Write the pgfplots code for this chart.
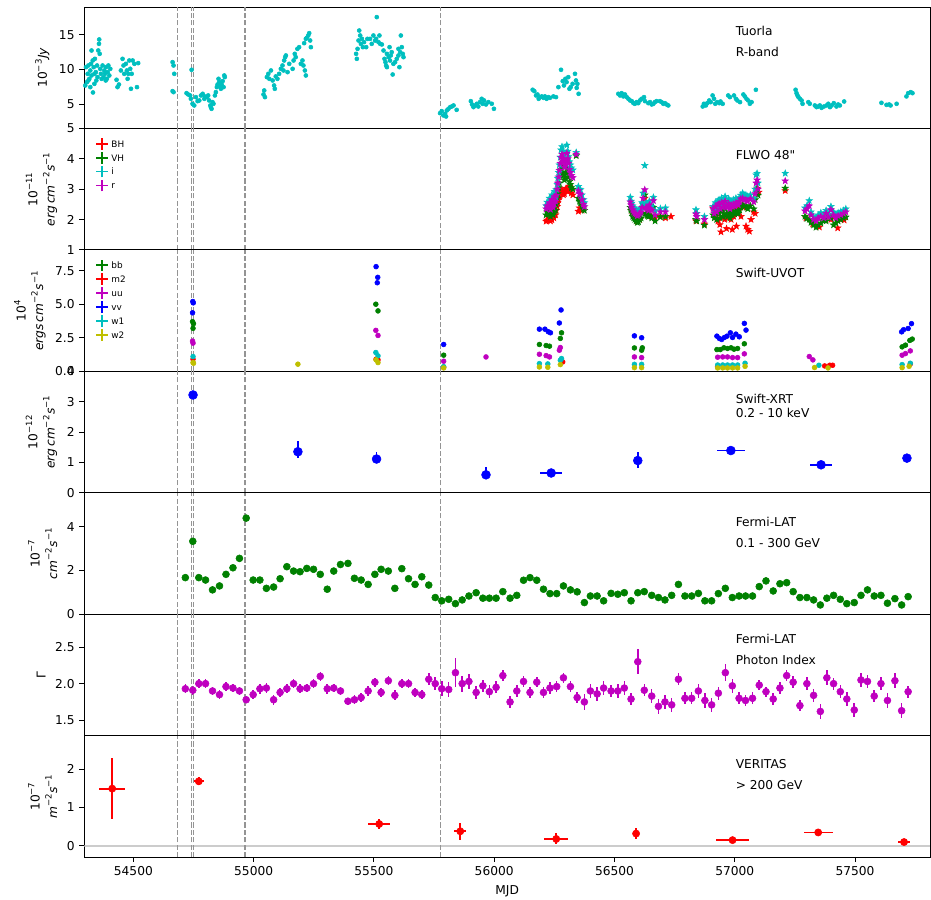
\documentclass[border=0pt]{standalone}
\usepackage{fontspec}
\setmainfont{DejaVu Sans}
\newfontfamily\plainfont{DejaVu Sans}
\usepackage{pgfplots}
\pgfplotsset{compat=1.18}

\definecolor{mc}{rgb}{0,0.75,0.75}
\definecolor{mg}{rgb}{0,0.5,0}
\definecolor{mr}{rgb}{1,0,0}
\definecolor{mm}{rgb}{0.75,0,0.75}
\definecolor{mb}{rgb}{0,0,1}
\definecolor{my}{rgb}{0.75,0.75,0}
\definecolor{xline}{rgb}{0.12,0.31,0.47}
\definecolor{vl}{rgb}{0.58,0.58,0.58}

\pgfdeclareplotmark{fstar}{%
 \pgfpathmoveto{\pgfpointpolar{90}{\pgfplotmarksize}}%
 \pgfpathlineto{\pgfpointpolar{126}{0.42\pgfplotmarksize}}%
 \pgfpathlineto{\pgfpointpolar{162}{\pgfplotmarksize}}%
 \pgfpathlineto{\pgfpointpolar{198}{0.42\pgfplotmarksize}}%
 \pgfpathlineto{\pgfpointpolar{234}{\pgfplotmarksize}}%
 \pgfpathlineto{\pgfpointpolar{270}{0.42\pgfplotmarksize}}%
 \pgfpathlineto{\pgfpointpolar{306}{\pgfplotmarksize}}%
 \pgfpathlineto{\pgfpointpolar{342}{0.42\pgfplotmarksize}}%
 \pgfpathlineto{\pgfpointpolar{18}{\pgfplotmarksize}}%
 \pgfpathlineto{\pgfpointpolar{54}{0.42\pgfplotmarksize}}%
 \pgfpathclose
 \pgfusepathqfillstroke
}

\newcommand{\sps}[1]{\textsuperscript{#1}}
\newcommand{\vlines}{\pgfplotsinvokeforeach{54684,54743,54750,54960,54967,55775}{%
  \draw[vl,dash pattern=on 3.7pt off 1.6pt,line width=0.65pt] ({axis cs:##1,0}|-{rel axis cs:0,0}) -- ({axis cs:##1,0}|-{rel axis cs:0,1});}}

\tikzset{lab/.style={anchor=base west, font=\fontsize{8.8}{10}\selectfont, inner sep=0pt}}
\pgfplotsset{
 panel/.style={
   scale only axis, width=608.9pt, height=87.43pt,
   xmin=54296, xmax=57812,
   xtick=\empty,
   ytick pos=left, xtick pos=bottom, tick align=outside,
   major tick length=3.5pt,
   tick style={black, line width=0.6pt},
   axis line style={line width=0.6pt},
   ticklabel style={font=\fontsize{8.8}{10}\selectfont},
   /pgf/number format/assume math mode=true,
   ylabel style={align=center, font=\fontsize{8.8}{12.5}\selectfont},
   anchor=south west,
 },
 crossleg/.style={legend image code/.code={\draw[##1, line width=1.2pt] (0.03cm,0pt) -- (0.32cm,0pt) (0.175cm,-0.145cm) -- (0.175cm,0.145cm);}},
}

\begin{document}
\begin{tikzpicture}
\useasboundingbox (-60.7pt,-30.24pt) rectangle (609.6pt,617.05pt);

% ---------------- Panel 1: Tuorla
\begin{axis}[panel, at={(0pt,524.58pt)}, ymin=1.5, ymax=19, ytick={5,10,15},
  ylabel={10\sps{−3}\textit{Jy}}]
\addplot[only marks, mark=*, mark size=1.45pt, color=mc] table {
x y
54300 7.69
54303 10.33
54307 8.17
54310 9.37
54313 10.57
54313 8.41
54317 8.65
54321 9.85
54321 7.45
54324 10.81
54326 9.13
54326 12.73
54331 11.29
54332 6.68
54335 10.33
54338 7.93
54338 9.37
54340 11.53
54344 9.61
54346 8.41
54349 10.57
54351 8.89
54354 12.73
54357 13.69
54358 14.32
54360 12.25
54362 10.09
54365 9.37
54368 8.65
54372 10.57
54376 8.89
54379 9.85
54382 9.37
54385 8.41
54386 10.33
54390 8.65
54393 9.61
54396 10.57
54400 9.13
54404 10.09
54430 8.51
54434 7.45
54440 7.83
54448 9.85
54455 11.53
54459 10.57
54462 9.37
54469 10.81
54473 9.85
54476 8.65
54479 9.37
54483 11.29
54487 10.09
54490 7.21
54493 9.37
54497 11.29
54504 10.81
54515 7.45
54520 10.91
54663 11.05
54667 10.57
54670 9.37
54663 6.87
54667 6.73
54721 6.58
54728 6.39
54736 6.25
54739 5.77
54742 9.95
54746 5.05
54753 4.81
54760 6.01
54767 5.43
54774 5.53
54781 6.25
54788 6.49
54795 5.77
54797 6.11
54806 6.01
54811 6.25
54815 5.53
54820 4.81
54822 4.57
54825 4.33
54829 5.29
54833 5.05
54839 6.25
54843 6.73
54847 7.45
54850 7.83
54854 8.65
54857 8.17
54861 7.55
54864 7.21
54867 7.83
54871 8.31
54875 7.45
54878 9.13
54880 8.89
55041 6.39
55044 6.97
55047 6.01
55055 8.89
55061 9.37
55065 8.65
55072 9.85
55079 8.41
55085 7.69
55088 7.21
55092 8.99
55099 8.65
55106 9.37
55113 10.09
55120 10.57
55124 9.85
55127 11.29
55131 11.77
55134 12.01
55141 9.61
55148 10.81
55162 10.09
55166 11.29
55171 12.25
55175 11.77
55182 12.97
55189 13.21
55196 10.81
55203 11.29
55207 10.57
55213 9.85
55217 9.13
55210 13.79
55217 14.41
55221 14.56
55227 14.89
55231 15.23
55235 14.17
55238 13.21
55426 12.25
55429 11.53
55432 12.97
55436 14.17
55439 15.61
55443 14.89
55446 13.69
55450 14.41
55454 13.21
55459 13.93
55468 13.21
55473 14.41
55484 14.41
55491 13.69
55498 14.89
55505 14.17
55509 14.41
55512 17.54
55519 13.93
55523 14.89
55526 13.69
55533 13.60
55540 12.73
55544 11.53
55548 11.05
55551 10.57
55554 12.25
55554 10.33
55561 11.77
55565 13.21
55567 11.29
55570 12.01
55574 12.49
55578 9.27
55581 10.81
55588 11.05
55595 11.53
55602 12.01
55602 12.97
55606 10.33
55609 12.49
55612 14.89
55616 13.21
55620 12.25
55623 11.77
55775 3.70
55782 3.99
55789 3.37
55796 3.61
55800 3.22
55803 4.09
55810 4.33
55817 4.57
55824 4.66
55831 4.81
55844 4.18
55903 5.43
55908 4.95
55914 4.57
55921 4.81
55928 5.05
55934 4.66
55941 5.29
55948 5.77
55952 5.05
55958 5.53
55966 4.95
55976 5.29
55990 5.05
55999 4.33
56160 7.07
56167 6.87
56174 6.25
56180 6.39
56185 5.77
56191 6.01
56198 6.11
56205 5.91
56211 6.11
56218 5.77
56225 6.01
56232 5.91
56246 6.11
56257 6.01
56267 7.45
56278 9.95
56285 8.31
56290 7.69
56296 8.65
56301 8.17
56308 8.89
56313 7.21
56318 7.45
56326 7.93
56336 9.37
56340 8.41
56343 7.35
56346 7.93
56351 6.49
56516 6.49
56523 6.25
56530 6.58
56537 6.11
56544 6.39
56551 6.01
56558 5.77
56565 5.53
56572 5.43
56579 5.14
56585 5.05
56592 5.29
56599 5.14
56606 5.53
56613 5.77
56623 6.01
56627 5.43
56641 5.14
56648 5.29
56655 4.95
56662 5.05
56668 5.29
56675 5.43
56689 5.43
56696 5.29
56703 5.05
56710 5.14
56717 4.95
56724 4.81
56867 4.66
56872 5.05
56880 4.81
56886 5.14
56894 5.53
56900 5.29
56908 6.25
56914 5.77
56919 5.05
56927 5.29
56936 5.14
56941 5.38
56950 5.05
56973 6.25
56980 6.01
56997 6.25
57005 5.77
57011 5.53
57022 5.29
57036 6.39
57042 6.11
57049 5.77
57056 5.53
57063 5.05
57070 5.29
57088 7.07
57253 7.07
57257 6.58
57261 6.25
57265 6.01
57271 5.77
57278 5.53
57282 5.05
57306 5.29
57312 5.05
57333 4.81
57340 4.57
57347 4.66
57354 4.81
57361 4.47
57371 4.66
57382 4.81
57389 5.05
57396 4.57
57403 4.81
57412 5.14
57423 4.66
57430 4.95
57437 4.81
57455 5.38
57610 5.19
57631 4.90
57642 4.95
57648 4.81
57673 5.05
57714 6.11
57721 6.58
57732 6.73
57739 6.58
};
\node[lab] at (rel axis cs:0.77,0.764) {Tuorla};
\node[lab] at (rel axis cs:0.77,0.593) {R-band};
\vlines
\end{axis}

% ---------------- Panel 2: FLWO
\begin{axis}[panel, at={(0pt,437.15pt)}, ymin=1, ymax=5, ytick={1,2,3,4,5},
  ylabel={10\sps{−11}\\\textit{erg\,cm}\sps{−2}\textit{s}\sps{−1}},
  legend style={draw=none, fill=none, at={(0.008,0.955)}, anchor=north west,
    font=\fontsize{6.4}{7}\selectfont, row sep=0pt,
    nodes={inner ysep=2.6pt, text height=4.8pt, text depth=0pt}},
  legend cell align=left]
\addplot[only marks, mark=fstar, mark size=2.4pt, color=mr, crossleg] table {
x y
56216 1.94
56220 1.98
56225 2.10
56230 2.05
56234 1.95
56238 2.02
56240 1.99
56245 2.12
56248 2.05
56251 2.21
56255 2.15
56258 2.30
56262 2.43
56264 2.55
56268 2.65
56271 2.75
56275 2.87
56278 2.95
56282 2.98
56285 2.90
56288 2.81
56292 2.85
56295 2.95
56299 3.03
56302 2.98
56306 2.92
56309 3.05
56313 3.09
56317 2.95
56321 2.87
56327 2.81
56350 2.27
56355 2.38
56365 2.30
56570 2.30
56580 2.15
56595 1.95
56605 2.00
56619 2.40
56626 2.70
56640 2.15
56655 2.10
56669 2.05
56691 2.10
56712 2.05
56735 2.10
56839 1.95
56874 1.85
56910 2.38
56915 2.30
56920 2.15
56925 2.20
56930 1.95
56938 1.83
56943 1.59
56950 2.10
56958 2.00
56966 1.70
56972 2.05
56978 2.20
56985 2.00
56990 1.67
56996 2.10
57000 2.30
57007 1.78
57012 2.20
57018 2.40
57026 2.10
57030 2.45
57037 2.40
57047 1.78
57054 1.67
57061 1.61
57068 2.00
57079 2.25
57085 2.20
57093 3.03
57100 2.90
57210 2.95
57296 2.05
57324 1.85
57352 1.75
57372 1.98
57400 2.00
57428 1.72
57441 2.00
57455 1.98
};
\addlegendentry{BH}
\addplot[only marks, mark=fstar, mark size=2.4pt, color=mg, crossleg] table {
x y
56216 2.15
56220 2.25
56225 2.20
56230 2.30
56234 2.10
56238 2.25
56240 2.35
56245 2.15
56248 2.25
56251 2.45
56255 2.30
56258 2.50
56262 2.70
56264 2.85
56268 3.05
56271 3.20
56275 3.45
56278 3.65
56282 3.75
56285 3.55
56288 3.45
56292 3.30
56295 3.40
56299 3.55
56302 3.70
56306 3.55
56309 3.40
56313 3.25
56317 3.15
56321 3.05
56327 3.00
56341 4.10
56350 2.70
56355 2.60
56359 2.55
56365 2.45
56371 2.35
56375 2.30
56566 2.40
56569 2.30
56572 2.22
56576 2.10
56580 2.05
56585 2.00
56590 1.95
56595 1.90
56600 1.92
56605 2.00
56611 2.05
56615 2.20
56619 2.50
56626 2.81
56631 2.20
56635 2.15
56638 2.12
56642 2.10
56645 2.25
56650 2.12
56655 2.05
56662 2.40
56669 1.95
56691 2.08
56712 2.10
56839 2.00
56842 1.95
56874 1.81
56910 2.15
56915 2.05
56920 2.20
56925 2.00
56930 2.25
56935 2.20
56940 2.05
56945 2.30
56950 2.10
56955 2.20
56960 2.35
56965 2.15
56970 2.10
56975 2.25
56980 2.05
56985 2.20
56990 2.15
56995 2.25
57000 2.18
57005 2.30
57010 2.22
57015 2.20
57020 2.32
57025 2.40
57033 2.50
57043 2.45
57050 2.40
57054 2.35
57065 2.45
57079 2.35
57085 2.65
57089 2.90
57093 3.00
57097 2.80
57210 3.03
57292 2.10
57300 2.03
57310 2.00
57317 1.90
57328 1.82
57338 1.74
57347 1.82
57358 1.88
57370 1.98
57380 1.95
57390 2.12
57400 2.05
57411 1.82
57420 1.88
57430 1.95
57441 2.00
57452 2.05
57462 2.08
};
\addlegendentry{VH}
\addplot[only marks, mark=fstar, mark size=2.4pt, color=mc, crossleg] table {
x y
56216 2.45
56220 2.57
56225 2.50
56230 2.70
56234 2.43
56238 2.62
56240 2.81
56245 2.51
56248 2.66
56251 2.92
56255 2.75
56258 2.98
56262 3.15
56264 3.36
56268 3.55
56271 3.80
56275 4.05
56278 4.29
56282 4.40
56285 4.25
56288 4.13
56292 3.95
56295 4.02
56299 4.20
56302 4.45
56306 4.25
56309 4.07
56313 3.90
56317 3.80
56321 3.70
56327 3.63
56341 4.21
56350 3.09
56355 3.00
56359 2.98
56365 2.81
56371 2.65
56375 2.55
56566 2.73
56569 2.60
56572 2.54
56576 2.45
56580 2.38
56585 2.35
56590 2.32
56595 2.28
56600 2.27
56605 2.33
56611 2.38
56615 2.55
56619 2.87
56626 3.78
56631 2.54
56635 2.50
56638 2.49
56642 2.45
56645 2.60
56650 2.48
56655 2.43
56662 2.73
56669 2.29
56691 2.36
56712 2.38
56839 2.32
56842 2.20
56874 2.10
56910 2.43
56915 2.30
56920 2.55
56925 2.35
56930 2.60
56935 2.65
56940 2.45
56945 2.70
56950 2.50
56955 2.60
56960 2.76
56965 2.55
56970 2.50
56975 2.68
56980 2.45
56985 2.60
56990 2.55
56995 2.65
57000 2.55
57005 2.70
57010 2.62
57015 2.60
57020 2.72
57025 2.80
57033 2.87
57043 2.81
57050 2.78
57054 2.76
57065 2.81
57079 2.70
57085 3.00
57089 3.47
57093 3.52
57097 3.20
57210 3.52
57292 2.38
57300 2.45
57310 2.62
57317 2.25
57328 2.10
57338 2.05
57347 2.15
57358 2.22
57370 2.15
57380 2.30
57390 2.18
57400 2.43
57411 2.25
57420 2.15
57430 2.22
57441 2.26
57452 2.30
57462 2.35
};
\addlegendentry{i}
\addplot[only marks, mark=fstar, mark size=2.4pt, color=mm, crossleg] table {
x y
56216 2.35
56220 2.45
56225 2.40
56230 2.55
56234 2.33
56238 2.50
56240 2.65
56245 2.40
56248 2.52
56251 2.75
56255 2.60
56258 2.80
56262 3.00
56264 3.20
56268 3.40
56271 3.62
56275 3.85
56278 4.05
56282 4.15
56285 4.00
56288 3.90
56292 3.72
56295 3.80
56299 3.95
56302 4.18
56306 4.00
56309 3.85
56313 3.65
56317 3.55
56321 3.45
56327 3.38
56341 4.15
56350 2.95
56355 2.85
56359 2.82
56365 2.65
56371 2.50
56375 2.42
56566 2.58
56569 2.48
56572 2.40
56576 2.32
56580 2.25
56585 2.20
56590 2.18
56595 2.12
56600 2.15
56605 2.20
56611 2.25
56615 2.40
56619 2.70
56626 2.98
56631 2.40
56635 2.36
56638 2.35
56642 2.30
56645 2.48
56650 2.35
56655 2.30
56662 2.62
56669 2.15
56691 2.25
56712 2.25
56839 2.18
56842 2.10
56874 2.00
56910 2.35
56915 2.20
56920 2.42
56925 2.25
56930 2.48
56935 2.52
56940 2.35
56945 2.55
56950 2.40
56955 2.48
56960 2.60
56965 2.42
56970 2.40
56975 2.52
56980 2.35
56985 2.48
56990 2.42
56995 2.50
57000 2.44
57005 2.55
57010 2.50
57015 2.48
57020 2.60
57025 2.68
57033 2.70
57043 2.65
57050 2.62
57054 2.60
57065 2.68
57079 2.58
57085 2.85
57089 3.20
57093 3.30
57097 3.00
57210 3.27
57292 2.28
57300 2.35
57310 2.45
57317 2.15
57328 2.00
57338 1.95
57347 2.05
57358 2.10
57370 2.05
57380 2.20
57390 2.08
57400 2.32
57411 2.15
57420 2.05
57430 2.12
57441 2.15
57452 2.20
57462 2.25
};
\addlegendentry{r}
\node[lab] at (rel axis cs:0.77,0.743) {\plainfont FLWO 48"};
\vlines
\end{axis}

% ---------------- Panel 3: Swift-UVOT
\begin{axis}[panel, at={(0pt,349.72pt)}, ymin=0, ymax=9.05, ytick={0,2.5,5,7.5},
  yticklabel style={/pgf/number format/.cd, fixed, fixed zerofill, precision=1},
  ylabel={10\sps{4}\\\textit{ergs\,cm}\sps{−2}\textit{s}\sps{−1}},
  legend style={draw=none, fill=none, at={(0.008,0.955)}, anchor=north west,
    font=\fontsize{6.4}{7}\selectfont, row sep=0pt,
    nodes={inner ysep=2.6pt, text height=4.8pt, text depth=0pt}},
  legend cell align=left]
\addplot[only marks, mark=*, mark size=1.75pt, color=mg, crossleg] table {
x y
54746 3.70
54748 3.20
54750 3.55
55508 5.00
55517 4.50
55790 1.20
56188 2.00
56216 1.92
56230 1.87
56275 2.45
56280 2.87
56583 1.74
56613 1.57
56616 1.75
56926 1.62
56940 1.62
56955 1.75
56970 1.70
56985 1.75
56997 1.65
57012 1.70
57040 2.05
57696 1.82
57710 1.95
57728 2.30
57738 2.40
};
\addlegendentry{bb}
\addplot[only marks, mark=*, mark size=1.75pt, color=mr, crossleg] table {
x y
54748 0.90
55509 0.90
55517 0.85
55790 0.30
56285 0.70
56929 0.35
57374 0.40
57395 0.45
57407 0.45
57730 0.55
};
\addlegendentry{m2}
\addplot[only marks, mark=*, mark size=1.75pt, color=mm, crossleg] table {
x y
54746 2.25
54748 2.10
55508 3.05
55517 2.67
55790 0.75
55966 1.07
56188 1.27
56216 1.17
56230 1.07
56271 1.57
56275 1.77
56583 1.07
56613 1.02
56929 1.05
56950 1.07
56970 1.07
56991 1.02
57012 1.02
57040 1.30
57310 1.10
57325 0.85
57696 1.20
57710 1.32
57730 1.52
};
\addlegendentry{uu}
\addplot[only marks, mark=*, mark size=1.75pt, color=mb, crossleg] table {
x y
54747 5.20
54749 5.10
54746 4.36
55509 7.80
55516 7.00
55514 6.60
55790 2.00
56188 3.14
56211 3.14
56225 2.95
56234 2.87
56271 3.60
56278 4.57
56583 2.64
56613 2.50
56926 2.62
56936 2.45
56946 2.37
56957 2.52
56968 2.62
56982 2.87
56991 2.52
57005 2.77
57019 2.57
57040 3.57
57047 3.07
57694 2.94
57702 3.10
57721 3.19
57735 3.55
};
\addlegendentry{vv}
\addplot[only marks, mark=*, mark size=1.75pt, color=mc, crossleg] table {
x y
54748 1.10
55508 1.40
55517 1.15
55790 0.35
56188 0.57
56223 0.55
56275 0.82
56280 0.95
56583 0.52
56613 0.52
56929 0.47
56950 0.47
56970 0.47
56991 0.47
57012 0.47
57043 0.60
57350 0.45
57696 0.50
57730 0.60
};
\addlegendentry{w1}
\addplot[only marks, mark=*, mark size=1.75pt, color=my, crossleg] table {
x y
54748 0.65
54750 0.60
55184 0.53
55509 0.85
55517 0.65
55790 0.25
56188 0.32
56223 0.30
56275 0.50
56583 0.27
56613 0.27
56929 0.25
56950 0.25
56970 0.25
56991 0.25
57012 0.25
57043 0.37
57332 0.28
57388 0.25
57696 0.27
57725 0.37
};
\addlegendentry{w2}
\node[lab] at (rel axis cs:0.77,0.771) {Swift-UVOT};
\vlines
\end{axis}

% ---------------- Panel 4: Swift-XRT
\begin{axis}[panel, at={(0pt,262.29pt)}, ymin=0, ymax=4, ytick={0,1,2,3,4},
  ylabel={10\sps{−12}\\\textit{erg\,cm}\sps{−2}\textit{s}\sps{−1}}]
\addplot[xline, line width=1.6pt] coordinates {(54748,0) (57716,0)};
\addplot[only marks, mark=*, mark size=3.2pt, color=mb,
  error bars/.cd, x dir=both, x explicit, y dir=both, y explicit,
  error bar style={line width=1.2pt}, error mark=none]
  table[x=x, y=y, x error=ex, y error plus=ep, y error minus=em] {
x y ex ep em
54748 3.22 5 0.06 0.06
55184 1.35 5 0.37 0.21
55511 1.11 5 0.22 0.10
55966 0.59 5 0.27 0.15
56237 0.65 47 0.05 0.05
56597 1.06 5 0.29 0.23
56984 1.39 58 0.05 0.05
57359 0.92 46 0.05 0.05
57716 1.14 5 0.06 0.06
};
\node[lab] at (rel axis cs:0.77,0.735) {Swift-XRT};
\node[lab] at (rel axis cs:0.77,0.617) {0.2 - 10 keV};
\vlines
\end{axis}

% ---------------- Panel 5: Fermi-LAT flux
\begin{axis}[panel, at={(0pt,174.86pt)}, ymin=0, ymax=5.55, ytick={0,2,4},
  ylabel={10\sps{−7}\\\textit{cm}\sps{−2}\textit{s}\sps{−1}}]
\addplot[only marks, mark=*, mark size=2.5pt, color=mg,
  error bars/.cd, y dir=both, y fixed=0.12, error bar style={line width=1.1pt}, error mark=none]
  table {
x y
54716 1.67
54747 3.33
54772 1.67
54800 1.56
54829 1.11
54858 1.29
54885 1.82
54914 2.12
54941 2.55
54969 4.39
54998 1.56
55026 1.56
55053 1.18
55083 1.24
55110 1.62
55138 2.17
55166 1.97
55193 1.94
55221 2.09
55249 2.05
55277 1.82
55306 1.14
55333 1.97
55361 2.27
55392 2.32
55419 1.64
55447 1.56
55476 1.36
55504 1.82
55530 2.05
55560 1.97
55587 1.18
55616 2.08
55644 1.62
55671 1.36
55699 1.71
55728 1.33
55755 0.76
55782 0.61
55811 0.68
55839 0.48
55867 0.65
55895 0.83
55925 0.98
55953 0.73
55980 0.73
56008 0.73
56036 1.03
56066 0.73
56094 0.86
56122 1.55
56149 1.67
56177 1.55
56205 1.14
56232 0.94
56260 0.94
56288 1.29
56317 1.11
56345 1.02
56375 0.53
56400 0.83
56428 0.83
56455 0.61
56486 0.95
56514 0.91
56541 0.98
56569 0.61
56597 0.98
56624 1.03
56655 0.86
56683 0.76
56710 0.65
56738 0.86
56766 1.36
56793 0.83
56821 0.83
56849 0.95
56876 0.61
56904 0.61
56932 0.94
56961 1.18
56990 0.76
57018 0.83
57045 0.83
57074 0.83
57102 1.26
57130 1.52
57160 1.06
57188 1.39
57216 1.44
57243 1.03
57271 0.76
57300 0.76
57328 0.65
57356 0.42
57383 0.73
57411 0.86
57439 0.68
57466 0.48
57497 0.53
57525 0.86
57552 1.11
57580 0.83
57608 0.86
57635 0.50
57666 0.71
57694 0.42
57721 0.80
};
\node[lab] at (rel axis cs:0.77,0.724) {Fermi-LAT};
\node[lab] at (rel axis cs:0.77,0.547) {0.1 - 300 GeV};
\vlines
\end{axis}

% ---------------- Panel 6: Fermi-LAT index
\begin{axis}[panel, at={(0pt,87.43pt)}, ymin=1.29, ymax=2.95, ytick={1.5,2.0,2.5},
  yticklabel style={/pgf/number format/.cd, fixed, fixed zerofill, precision=1},
  ylabel={Γ}]
\addplot[only marks, mark=*, mark size=2.5pt, color=mm,
  error bars/.cd, y dir=both, y explicit, error bar style={line width=1.1pt}, error mark=none]
  table[x=x, y=y, y error=e] {
x y e
54716 1.93 0.06
54747 1.91 0.06
54772 2.00 0.06
54800 2.00 0.06
54829 1.90 0.06
54858 1.85 0.06
54885 1.96 0.06
54914 1.94 0.06
54941 1.90 0.06
54969 1.78 0.05
54998 1.85 0.06
55026 1.93 0.07
55053 1.94 0.07
55083 1.78 0.07
55110 1.88 0.06
55138 1.93 0.06
55166 2.00 0.06
55193 1.93 0.06
55221 1.94 0.06
55249 2.00 0.06
55277 2.10 0.06
55306 1.93 0.07
55333 1.94 0.06
55361 1.90 0.06
55392 1.76 0.05
55419 1.78 0.06
55447 1.81 0.06
55476 1.90 0.07
55504 2.02 0.06
55530 1.88 0.06
55560 2.04 0.06
55587 1.84 0.07
55616 2.00 0.06
55644 2.00 0.06
55671 1.88 0.06
55699 1.85 0.06
55728 2.06 0.08
55755 2.00 0.09
55782 1.93 0.10
55811 1.92 0.10
55839 2.15 0.20
55867 2.00 0.11
55895 2.03 0.10
55925 1.88 0.09
55953 1.97 0.08
55980 1.89 0.09
56008 1.95 0.08
56036 2.11 0.08
56066 1.75 0.08
56094 1.90 0.08
56122 2.03 0.07
56149 1.88 0.07
56177 2.02 0.07
56205 1.88 0.07
56232 1.94 0.08
56260 1.96 0.08
56288 2.08 0.07
56317 1.96 0.07
56345 1.81 0.08
56375 1.75 0.11
56400 1.90 0.09
56428 1.86 0.10
56455 1.94 0.10
56486 1.90 0.08
56514 1.90 0.09
56541 1.94 0.09
56569 1.79 0.08
56597 2.30 0.17
56624 1.91 0.08
56655 1.83 0.10
56683 1.69 0.10
56710 1.75 0.10
56738 1.71 0.10
56766 2.06 0.08
56793 1.80 0.08
56821 1.80 0.08
56849 1.90 0.09
56876 1.77 0.10
56904 1.71 0.10
56932 1.87 0.09
56961 2.15 0.12
56990 1.97 0.10
57018 1.80 0.08
57045 1.77 0.08
57074 1.80 0.08
57102 1.98 0.07
57130 1.89 0.07
57160 1.79 0.08
57188 1.94 0.08
57216 2.11 0.08
57243 2.02 0.08
57271 1.70 0.07
57300 2.00 0.09
57328 1.84 0.09
57356 1.62 0.10
57383 2.08 0.10
57411 2.00 0.08
57439 1.89 0.09
57466 1.79 0.10
57497 1.64 0.09
57525 2.05 0.09
57552 2.03 0.09
57580 1.83 0.08
57608 2.00 0.09
57635 1.77 0.10
57666 2.04 0.10
57694 1.63 0.10
57721 1.89 0.08
};
\node[lab] at (rel axis cs:0.77,0.76) {Fermi-LAT};
\node[lab] at (rel axis cs:0.77,0.584) {Photon Index};
\vlines
\end{axis}

% ---------------- Panel 7: VERITAS
\begin{axis}[panel, at={(0pt,0pt)}, ymin=-0.29, ymax=2.87, ytick={0,1,2},
  xtick={54500,55000,...,57500}, scaled x ticks=false,
  xticklabel style={/pgf/number format/1000 sep={}},
  xlabel={MJD}, xlabel style={font=\fontsize{8.8}{10}\selectfont},
  ylabel={10\sps{−7}\\\textit{m}\sps{−2}\textit{s}\sps{−1}}]
\addplot[black!20, line width=1.3pt] coordinates {(54296,0) (57812,0)};
\addplot[only marks, mark=*, mark size=2.6pt, color=mr,
  error bars/.cd, x dir=both, x explicit, y dir=both, y explicit,
  error bar style={line width=1.3pt}, error mark=none]
  table[x=x, y=y, x error=ex, y error plus=ep, y error minus=em] {
x y ex ep em
54412 1.49 55 0.81 0.79
54772 1.68 20 0.10 0.10
55522 0.57 45 0.12 0.12
55859 0.38 25 0.21 0.22
56258 0.18 50 0.15 0.14
56590 0.32 10 0.14 0.13
56991 0.15 70 0.06 0.06
57347 0.35 60 0.05 0.05
57704 0.10 25 0.05 0.05
};
\node[lab] at (rel axis cs:0.77,0.725) {VERITAS};
\node[lab] at (rel axis cs:0.77,0.558) {> 200 GeV};
\vlines
\end{axis}
\end{tikzpicture}
\end{document}
